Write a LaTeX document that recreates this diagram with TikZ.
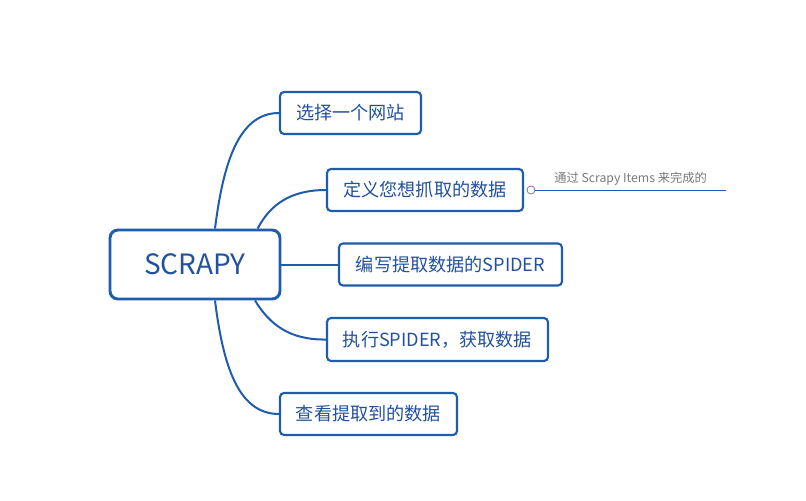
\documentclass[tikz,border=0pt]{standalone}
\usepackage{fontspec}
\setmainfont{Noto Sans CJK SC}
\usetikzlibrary{backgrounds}
\begin{document}
\begin{tikzpicture}[x=0.75pt,y=-0.75pt,
  line/.style={draw=blueline,line width=1.5pt},
  topic/.style={draw=blueline,line width=1.6pt,rounded corners=3pt,fill=white,
    inner sep=0pt,text=bluetext,font=\fontsize{13.6pt}{16pt}\selectfont},
  rootbox/.style={draw=blueline,line width=2.2pt,rounded corners=6pt,fill=white,
    inner sep=0pt,text=bluetext,font=\fontsize{21pt}{24pt}\selectfont}]
\definecolor{blueline}{HTML}{1E5CAD}
\definecolor{bluetext}{HTML}{22529E}
\definecolor{greytext}{HTML}{7A7A7A}
\useasboundingbox (0,0) rectangle (806,500);
% nodes
\node[rootbox,minimum width=127.5pt,minimum height=51.75pt] (root) at (195,264.5) {SCRAPY};
\node[topic,minimum width=105.75pt,minimum height=31.5pt] (t1) at (350.5,113) {选择一个网站};
\node[topic,minimum width=147pt,minimum height=31.5pt] (t2) at (425,190) {定义您想抓取的数据};
\node[topic,minimum width=167.25pt,minimum height=31.5pt] (t3) at (450.5,264.5) {编写提取数据的SPIDER};
\node[topic,minimum width=165.75pt,minimum height=32.25pt] (t4) at (437.5,339.5) {执行SPIDER，获取数据};
\node[topic,minimum width=132.75pt,minimum height=31.5pt] (t5) at (368.5,414) {查看提取到的数据};
% anchor coordinates on root
\coordinate (r1) at ([xshift=15pt]root.north);
\coordinate (r2) at ([xshift=47pt]root.north);
\coordinate (r4) at ([xshift=45pt]root.south);
\coordinate (r5) at ([xshift=15pt]root.south);
% connectors behind the boxes
\begin{scope}[on background layer]
\fill[white] (0,0) rectangle (806,500);
\draw[line] (r1) .. controls (223,165) and (238,113) .. (t1.west);
\draw[line] (r2) .. controls (270,205) and (290,190) .. (t2.west);
\draw[line] (root.east) -- (t3.west);
\draw[line] (r4) .. controls (270,325) and (290,340) .. (t4.west);
\draw[line] (r5) .. controls (223,365) and (238,414) .. (t5.west);
\end{scope}
% note
\node[circle,draw=greytext,line width=0.6pt,inner sep=0pt,minimum size=6pt] (c) at (531,190) {};
\coordinate (e) at (726,190);
\draw[blueline,line width=0.7pt] (c.east) -- (e);
\node[text=greytext,font=\fontsize{9.2pt}{11pt}\selectfont,anchor=south west,inner sep=0pt] (note) at (554,186) {通过 Scrapy Items 来完成的};
\end{tikzpicture}
\end{document}
